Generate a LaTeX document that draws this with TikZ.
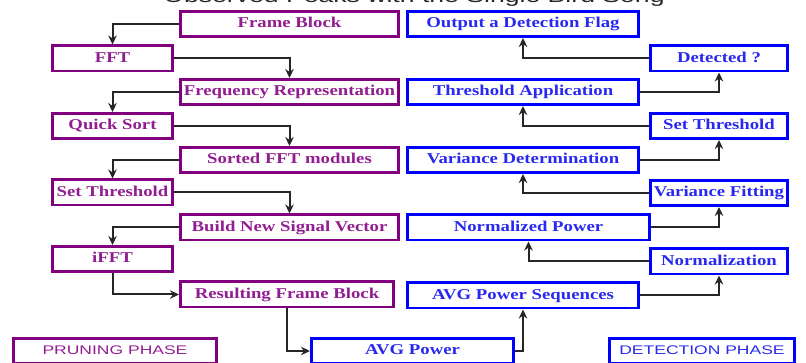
\documentclass[tikz,border=0pt]{standalone}
\usepackage{fontspec}
\usepackage{tikz}
\usetikzlibrary{arrows.meta}
\newfontfamily\boxfont{Liberation Serif}[FakeStretch=1.25]
\newfontfamily\phasefont{Liberation Sans}[FakeStretch=1.4]
\newfontfamily\titlefont{Liberation Sans}[FakeStretch=1.4]
\definecolor{prunebox}{RGB}{128,0,128}
\definecolor{prunetext}{RGB}{145,30,145}
\definecolor{detbox}{RGB}{0,0,255}
\definecolor{dettext}{RGB}{40,40,240}
\tikzset{
  blk/.style={line width=2.6pt,inner sep=0pt,minimum height=25.4pt,text height=10pt,text depth=2.5pt,
    font=\boxfont\bfseries\fontsize{15}{18}\selectfont},
  prune/.style={blk,draw=prunebox,text=prunetext},
  detect/.style={blk,draw=detbox,text=dettext},
  phase/.style={font=\phasefont\fontsize{12.5}{14}\selectfont,text height=9pt,text depth=3pt},
  link/.style={->,line width=2pt,draw=black!85}
}

\begin{document}
\begin{tikzpicture}[>={Stealth[length=9pt,width=8.5pt]},x=1pt,y=-1pt]
\useasboundingbox (0,0) rectangle (806,363);
\node[font=\titlefont\fontsize{19}{22}\selectfont,text=black!85,anchor=base] (title) at (414,3) {Observed Peaks with the Single Bird Song};
% pruning phase
\node[prune,minimum width=218.4pt] (fb) at (289.5,24) {Frame Block};
\node[prune,minimum width=120.4pt] (fft) at (112.5,58.5) {FFT};
\node[prune,minimum width=218.4pt] (fr) at (289.5,92) {Frequency Representation};
\node[prune,minimum width=120.4pt] (qs) at (112.5,126) {Quick Sort};
\node[prune,minimum width=218.4pt] (sfm) at (289.5,160) {Sorted FFT modules};
\node[prune,minimum width=120.4pt] (stl) at (112.5,192.5) {Set Threshold};
\node[prune,minimum width=218.4pt] (bnsv) at (289.5,227.5) {Build New Signal Vector};
\node[prune,minimum width=120.4pt] (ifft) at (112.5,259) {iFFT};
\node[prune,minimum width=213.4pt] (rfb) at (287,294.5) {Resulting Frame Block};
\node[prune,phase,minimum width=203.4pt] (pp) at (115,351) {PRUNING PHASE};
% detection phase
\node[detect,minimum width=202.4pt] (avg) at (412.5,351) {AVG Power};
\node[detect,minimum width=231.4pt] (aps) at (523,295.5) {AVG Power Sequences};
\node[detect,minimum width=137.4pt] (nrm) at (719,261.5) {Normalization};
\node[detect,minimum width=242.4pt] (np) at (528.5,227.5) {Normalized Power};
\node[detect,minimum width=137.4pt] (vf) at (719,193) {Variance Fitting};
\node[detect,minimum width=231.4pt] (vd) at (523,160) {Variance Determination};
\node[detect,minimum width=137.4pt] (str) at (719,126) {Set Threshold};
\node[detect,minimum width=231.4pt] (ta) at (523,92) {Threshold Application};
\node[detect,minimum width=137.4pt] (det) at (719,58.5) {Detected ?};
\node[detect,minimum width=231.4pt] (odf) at (523,24) {Output a Detection Flag};
\node[detect,phase,minimum width=185.4pt] (dp) at (702,351) {DETECTION PHASE};
% links
\draw[link] (fb.west) -| (fft.north);
\draw[link] (fft.east) -| (fr.north);
\draw[link] (fr.west) -| (qs.north);
\draw[link] (qs.east) -| (sfm.north);
\draw[link] (sfm.west) -| (stl.north);
\draw[link] (stl.east) -| (bnsv.north);
\draw[link] (bnsv.west) -| (ifft.north);
\draw[link] (ifft.south) |- (rfb.west);
\draw[link] (rfb.south) |- (avg.west);
\draw[link] (avg.east) -| (aps.south);
\draw[link] (aps.east) -| (nrm.south);
\draw[link] (nrm.west) -| (np.south);
\draw[link] (np.east) -| (vf.south);
\draw[link] (vf.west) -| (vd.south);
\draw[link] (vd.east) -| (str.south);
\draw[link] (str.west) -| (ta.south);
\draw[link] (ta.east) -| (det.south);
\draw[link] (det.west) -| (odf.south);
\end{tikzpicture}
\end{document}
